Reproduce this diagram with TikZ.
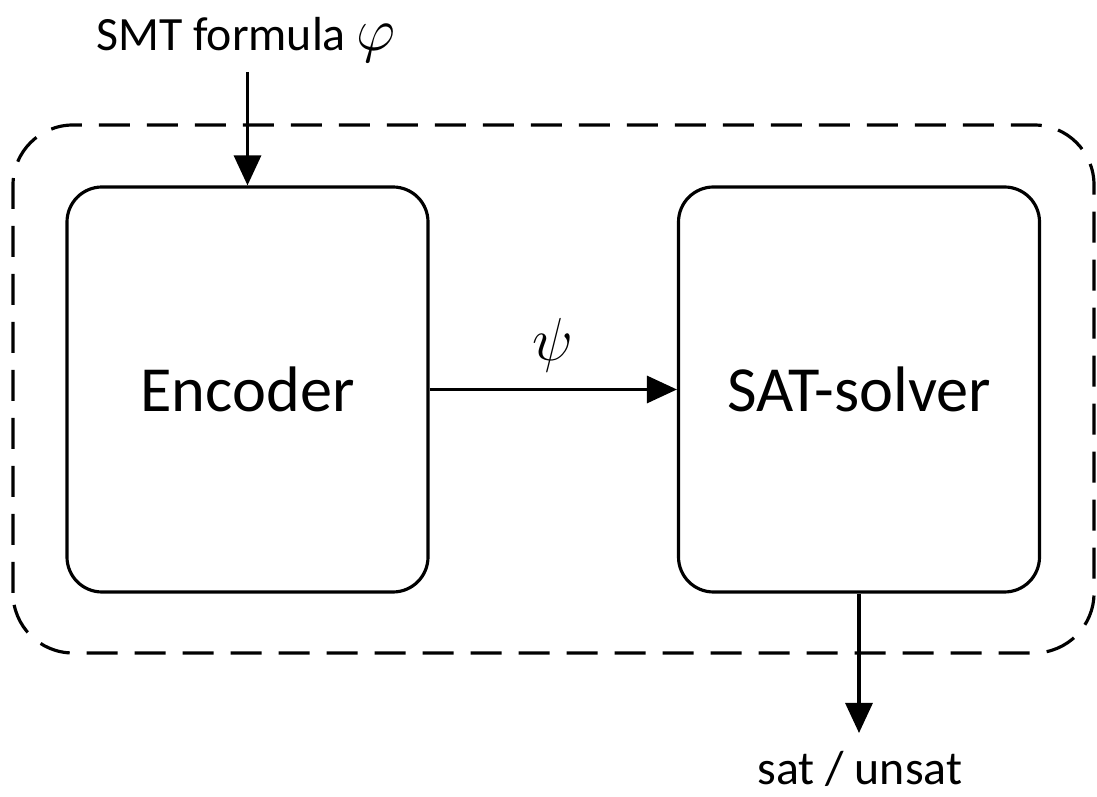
\documentclass[tikz,border=0pt]{standalone}
\usepackage{amsmath}
\usepackage{fontspec}
\setmainfont{Carlito}
\usetikzlibrary{arrows.meta}

\begin{document}
\begin{tikzpicture}[
    box/.style={draw, line width=0.9pt, rounded corners=0.35cm, minimum width=3.61cm, minimum height=4.05cm, font=\fontsize{18.3}{20}\selectfont},
    flow/.style={-{Triangle[length=0.3cm,width=0.27cm]}, line width=0.9pt},
    lbl/.style={font=\fontsize{13.6}{15}\selectfont}
]
    \useasboundingbox (0,0) rectangle (10.97,7.97);

    % dashed frame
    \draw[line width=0.9pt, dash pattern=on 0.31cm off 0.17cm, rounded corners=0.6cm] (0.13,1.44) rectangle (10.94,6.72);

    % Encoder and SAT-solver
    \node[box] (enc) at (2.475,4.075) {Encoder};
    \node[box] (sat) at (8.59,4.075) {SAT-solver};

    % input
    \node[lbl] (in) at (2.46,7.57) {SMT formula {\fontsize{17}{18}\selectfont$\varphi$}};
    \coordinate (inend) at (2.475,7.25);
    \draw[flow] (inend) -- (enc.north);

    % encoder to solver
    \draw[flow] (enc) -- node[above=1pt, font=\fontsize{19}{20}\selectfont] (psi) {$\psi$} (sat);

    % output
    \coordinate (outend) at (8.59,0.64);
    \draw[flow] (sat.south) -- (outend);
    \node[lbl] (out) at (8.6,0.28) {sat / unsat};
\end{tikzpicture}
\end{document}
